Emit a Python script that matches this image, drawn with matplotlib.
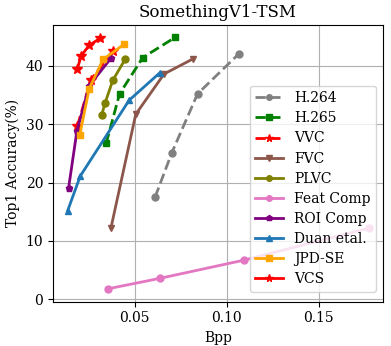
import matplotlib
matplotlib.use('Agg')
import matplotlib.pyplot as plt

plt.rcParams['font.family'] = 'DejaVu Serif'

h264_x = [0.0610, 0.0701, 0.0841, 0.1064]
h264_y = [17.5, 25.1, 35.2, 42.0]
h265_x = [0.0344, 0.0417, 0.0543, 0.0721]
h265_y = [26.7, 35.2, 41.4, 44.9]
vvc_x = [0.0188, 0.0261, 0.0379]
vvc_y = [29.7, 37.6, 42.5]
fvc_x = [0.0370, 0.0505, 0.0659, 0.0817]
fvc_y = [12.2, 31.7, 38.6, 41.2]
plvc_x = [0.0319, 0.0339, 0.0380, 0.0449]
plvc_y = [31.5, 33.7, 37.5, 41.2]
feat_x = [0.0352, 0.0636, 0.1091, 0.1773]
feat_y = [1.8, 3.6, 6.7, 12.2]
roi_x = [0.0140, 0.0185, 0.0252, 0.0370]
roi_y = [19.1, 28.8, 36.6, 41.3]
duan_x = [0.0134, 0.0203, 0.0469, 0.0636]
duan_y = [15.1, 21.1, 34.1, 38.8]
jpd_x = [0.0201, 0.0252, 0.0328, 0.0442]
jpd_y = [28.2, 36.1, 41.1, 43.7]
vcs_x = [0.0188, 0.0208, 0.0252, 0.0311]
vcs_y = [39.5, 41.7, 43.5, 44.7]

fig, ax = plt.subplots(figsize=(3.91, 3.46), dpi=100)

ax.plot(h264_x, h264_y, '--o', color='gray', label='H.264', lw=2, ms=5)
ax.plot(h265_x, h265_y, '--s', color='green', label='H.265', lw=2, ms=5)
ax.plot(vvc_x, vvc_y, '--*', color='red', label='VVC', lw=2, ms=7)
ax.plot(fvc_x, fvc_y, '-v', color='#8c564b', label='FVC', lw=2, ms=5)
ax.plot(plvc_x, plvc_y, '-o', color='olive', label='PLVC', lw=2, ms=5)
ax.plot(feat_x, feat_y, '-o', color='#e377c2', label='Feat Comp', lw=2, ms=5)
ax.plot(roi_x, roi_y, '-p', color='purple', label='ROI Comp', lw=2, ms=5)
ax.plot(duan_x, duan_y, '-^', color='#1f77b4', label='Duan etal.', lw=2, ms=5)
ax.plot(jpd_x, jpd_y, '-s', color='orange', label='JPD-SE', lw=2, ms=5)
ax.plot(vcs_x, vcs_y, '-*', color='red', label='VCS', lw=2, ms=7)

ax.set_xlim(0.0054, 0.185)
ax.set_ylim(-0.4, 47)
ax.set_xticks([0.05, 0.10, 0.15])
ax.set_yticks([0, 10, 20, 30, 40])
ax.tick_params(labelsize=10)
ax.grid(True)
ax.set_xlabel('Bpp', fontsize=10)
ax.set_ylabel('Top1 Accuracy(%)', fontsize=10)
ax.set_title('SomethingV1-TSM', fontsize=12)
ax.legend(loc='lower right', bbox_to_anchor=(1.0, 0.011), fontsize=10,
          markerscale=0.8, labelspacing=0.44, borderaxespad=0.5)

plt.subplots_adjust(left=0.135, right=0.98, top=0.928, bottom=0.128)
plt.savefig('out.png')
